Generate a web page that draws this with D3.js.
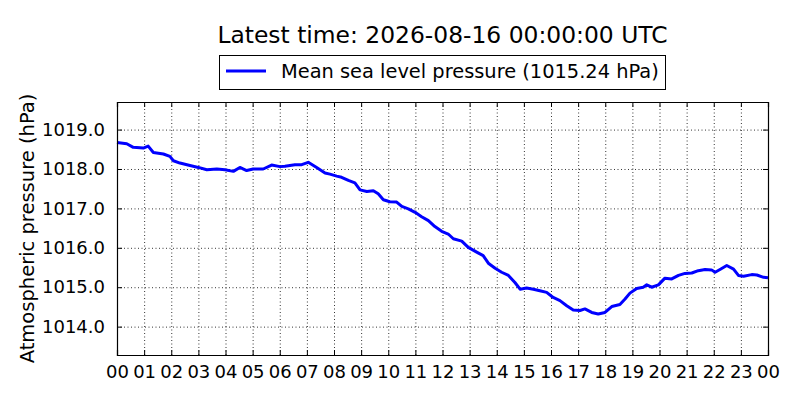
<!DOCTYPE html>
<html>
<head>
<meta charset="utf-8">
<script src="https://cdn.jsdelivr.net/npm/d3@7"></script>
<style>
  body { margin: 0; background: #fff; }
  svg, svg text { font-family: "DejaVu Sans", sans-serif; }
  .grid line { stroke: #000; stroke-width: 0.8; stroke-dasharray: 1,2.5; }
  .grid path { display: none; }
</style>
</head>
<body>
<div id="chart"></div>
<script>
// hours since 00 UTC
var hours = [0, 0.36, 0.60, 0.97, 1.15, 1.34, 1.71, 1.95, 2.08, 2.32, 2.69, 3.00,
  3.31, 3.68, 3.98, 4.29, 4.53, 4.78, 5.02, 5.39, 5.70, 6.01, 6.19, 6.56, 6.81,
  7.05, 7.36, 7.67, 7.85, 8.10, 8.28, 8.53, 8.77, 8.96, 9.21, 9.45, 9.63, 9.82,
  10.06, 10.31, 10.50, 10.74, 10.99, 11.23, 11.48, 11.72, 11.97, 12.21, 12.40,
  12.71, 12.95, 13.26, 13.50, 13.69, 13.94, 14.18, 14.43, 14.67, 14.86, 15.10,
  15.35, 15.59, 15.84, 16.08, 16.33, 16.58, 16.82, 17.07, 17.25, 17.50, 17.74,
  17.99, 18.24, 18.54, 18.73, 18.91, 19.16, 19.40, 19.53, 19.71, 19.96, 20.20,
  20.45, 20.70, 20.94, 21.19, 21.43, 21.68, 21.92, 22.05, 22.23, 22.48, 22.73,
  22.91, 23.10, 23.40, 23.59, 23.84, 24.00];

var pressure = [1018.67, 1018.64, 1018.55, 1018.53, 1018.58, 1018.42, 1018.38,
  1018.32, 1018.21, 1018.15, 1018.09, 1018.04, 1017.98, 1018.00, 1017.98,
  1017.94, 1018.04, 1017.96, 1018.00, 1018.00, 1018.10, 1018.06, 1018.07,
  1018.11, 1018.11, 1018.17, 1018.04, 1017.90, 1017.87, 1017.82, 1017.79,
  1017.71, 1017.65, 1017.47, 1017.43, 1017.45, 1017.37, 1017.22, 1017.17,
  1017.16, 1017.05, 1016.99, 1016.90, 1016.79, 1016.69, 1016.54, 1016.42,
  1016.35, 1016.23, 1016.17, 1016.01, 1015.89, 1015.80, 1015.61, 1015.48,
  1015.38, 1015.30, 1015.12, 1014.95, 1014.98, 1014.95, 1014.91, 1014.87,
  1014.74, 1014.66, 1014.53, 1014.42, 1014.41, 1014.45, 1014.36, 1014.32,
  1014.36, 1014.51, 1014.56, 1014.70, 1014.85, 1014.97, 1015.00, 1015.06,
  1015.00, 1015.06, 1015.23, 1015.21, 1015.30, 1015.35, 1015.36, 1015.42,
  1015.45, 1015.44, 1015.38, 1015.45, 1015.55, 1015.46, 1015.30, 1015.28,
  1015.32, 1015.31, 1015.25, 1015.24];

var xTicks = d3.range(0, 25);
var yTicks = [1014.0, 1015.0, 1016.0, 1017.0, 1018.0, 1019.0];
var title = "Latest time: 2026-08-16 00:00:00 UTC";
var seriesName = "Mean sea level pressure";
var latest = pressure[pressure.length - 1];

var W = 800, H = 400,
    margin = {top: 102, right: 32, bottom: 45, left: 117},
    width = W - margin.left - margin.right,
    height = H - margin.top - margin.bottom;

var svg = d3.select("#chart")
  .append("svg")
    .attr("width", W)
    .attr("height", H);

var g = svg.append("g")
    .attr("transform", "translate(" + margin.left + "," + margin.top + ")");

var x = d3.scaleLinear().domain([0, 24]).range([0, width]);
var y = d3.scaleLinear().domain([1013.28, 1019.7]).range([height, 0]);

// dotted grid
g.append("g")
    .attr("class", "grid")
    .attr("transform", "translate(0," + height + ")")
    .call(d3.axisBottom(x).tickValues(xTicks).tickSize(-height).tickFormat(""));
g.append("g")
    .attr("class", "grid")
    .call(d3.axisLeft(y).tickValues(yTicks).tickSize(-width).tickFormat(""));

var line = d3.line()
    .x(function(d, i) { return x(hours[i]); })
    .y(function(d) { return y(d); });

g.append("path")
    .datum(pressure)
    .attr("fill", "none")
    .attr("stroke", "#0000ff")
    .attr("stroke-width", 3)
    .attr("stroke-linejoin", "round")
    .attr("d", line);

// axes with inward ticks on every side
var hourFmt = function(d) { return String(d % 24).padStart(2, "0"); };

var xb = g.append("g")
    .attr("transform", "translate(0," + height + ")")
    .call(d3.axisBottom(x).tickValues(xTicks).tickSize(-5).tickPadding(10).tickFormat(hourFmt));
xb.attr("font-family", "DejaVu Sans").attr("font-size", 18);
xb.selectAll("text").attr("fill", "#000");

g.append("g")
    .call(d3.axisTop(x).tickValues(xTicks).tickSize(-5).tickFormat(""));

var yl = g.append("g")
    .call(d3.axisLeft(y).tickValues(yTicks).tickSize(-5).tickPadding(12).tickFormat(d3.format(".1f")));
yl.attr("font-family", "DejaVu Sans").attr("font-size", 18);
yl.selectAll("text").attr("fill", "#000");

g.append("g")
    .attr("transform", "translate(" + width + ",0)")
    .call(d3.axisRight(y).tickValues(yTicks).tickSize(-5).tickFormat(""));

g.selectAll(".domain").attr("stroke", "#000").attr("stroke-width", 1.2);
g.selectAll(".tick line").filter(function() { return !this.closest(".grid"); })
    .attr("stroke", "#000");

// axis label
svg.append("text")
    .attr("transform", "translate(34," + (margin.top + height / 2) + ") rotate(-90)")
    .attr("text-anchor", "middle")
    .style("font-size", "19.5px")
    .text("Atmospheric pressure (hPa)");

// title
svg.append("text")
    .attr("x", margin.left + width / 2)
    .attr("y", 43)
    .attr("text-anchor", "middle")
    .style("font-size", "23.4px")
    .text(title);

// legend
var legend = svg.append("g");
legend.append("rect")
    .attr("x", 219.5).attr("y", 55.5)
    .attr("width", 446).attr("height", 34)
    .attr("fill", "#fff").attr("stroke", "#000").attr("stroke-width", 1);
legend.append("line")
    .attr("x1", 226).attr("x2", 266)
    .attr("y1", 71).attr("y2", 71)
    .attr("stroke", "#0000ff").attr("stroke-width", 2.8);
legend.append("text")
    .attr("x", 281).attr("y", 78)
    .style("font-size", "19.4px")
    .text(seriesName + " (" + latest.toFixed(2) + " hPa)");
</script>
</body>
</html>
